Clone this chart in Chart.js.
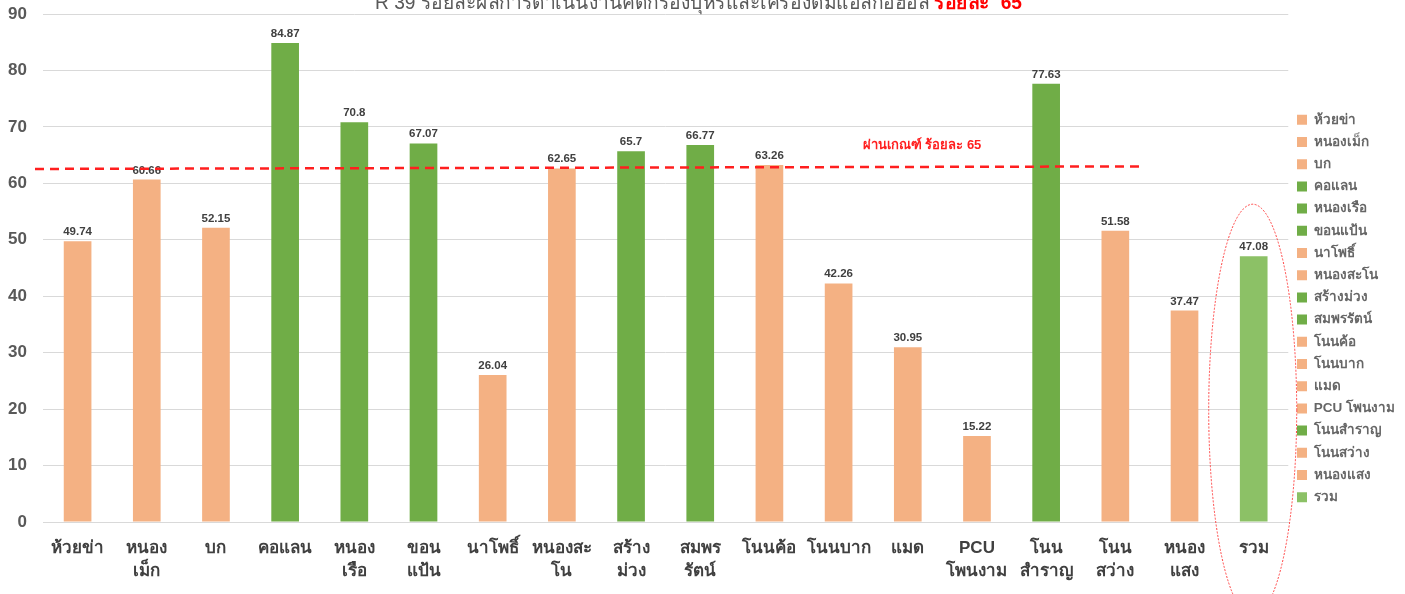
<!DOCTYPE html>
<html><head><meta charset="utf-8">
<script src="https://cdn.jsdelivr.net/npm/chart.js@4.4.1/dist/chart.umd.min.js"></script>
<style>html,body{margin:0;padding:0;background:#fff;overflow:hidden}#wrap{width:1405px;height:594px;position:relative}</style>
</head><body><div id="wrap"><canvas id="c" width="1405" height="594"></canvas></div>
<script>
const categories = ['ห้วยข่า','หนองเม็ก','บก','คอแลน','หนองเรือ','ขอนแป้น','นาโพธิ์','หนองสะโน','สร้างม่วง','สมพรรัตน์','โนนค้อ','โนนบาก','แมด','PCU โพนงาม','โนนสำราญ','โนนสว่าง','หนองแสง','รวม'];
const axisLabels = [['ห้วยข่า'],['หนอง','เม็ก'],['บก'],['คอแลน'],['หนอง','เรือ'],['ขอน','แป้น'],['นาโพธิ์'],['หนองสะ','โน'],['สร้าง','ม่วง'],['สมพร','รัตน์'],['โนนค้อ'],['โนนบาก'],['แมด'],['PCU','โพนงาม'],['โนน','สำราญ'],['โนน','สว่าง'],['หนอง','แสง'],['รวม']];
const values = [49.74, 60.66, 52.15, 84.87, 70.8, 67.07, 26.04, 62.65, 65.7, 66.77, 63.26, 42.26, 30.95, 15.22, 77.63, 51.58, 37.47, 47.08];
const passTarget = 65;
const targetLineValues = [62.55, 63.0];   // where the dashed line is drawn (start, end)
const targetLabel = 'ผ่านเกณฑ์ ร้อยละ 65';
const titleMain = 'R 39 ร้อยละผลการดำเนินงานคัดกรองบุหรี่และเครื่องดื่มแอลกอฮอล์ ';
const titleRed = 'ร้อยละ  65';
const yTickValues = [0,10,20,30,40,50,60,70,80,90];
const totalLabel = 'รวม';

const ORANGE = '#F4B183', GREEN = '#70AD47', LIGHTGREEN = '#8CC166';
const barColors = categories.map((c,i)=> c===totalLabel ? LIGHTGREEN : (values[i] >= passTarget ? GREEN : ORANGE));
const FONT = '"Liberation Sans", Arial, sans-serif';

const valueLabels = {
  id:'valueLabels',
  afterDatasetsDraw(chart){
    const ctx = chart.ctx, meta = chart.getDatasetMeta(0);
    ctx.save();
    ctx.font = 'bold 11.5px ' + FONT;
    ctx.fillStyle = '#404040';
    ctx.textAlign = 'center'; ctx.textBaseline = 'alphabetic';
    meta.data.forEach((bar,i)=>{ ctx.fillText(String(values[i]), bar.x, bar.y - 6); });
    ctx.restore();
  }
};
const targetLine = {
  id:'targetLine',
  afterDatasetsDraw(chart){
    const ctx = chart.ctx, y = chart.scales.y, a = chart.chartArea;
    const x0 = a.left - 8, x1 = 1140;
    ctx.save();
    ctx.strokeStyle = '#FF1F1F'; ctx.lineWidth = 2.5; ctx.setLineDash([9,6]);
    ctx.beginPath();
    ctx.moveTo(x0, y.getPixelForValue(targetLineValues[0]));
    ctx.lineTo(x1, y.getPixelForValue(targetLineValues[1]));
    ctx.stroke();
    ctx.setLineDash([]);
    ctx.font = 'bold 13px ' + FONT;
    ctx.fillStyle = '#FF1F1F'; ctx.textAlign='center'; ctx.textBaseline='middle';
    ctx.fillText(targetLabel, 922, 145);
    ctx.restore();
  }
};
const ellipse = {
  id:'ellipse',
  afterDraw(chart){
    const ctx = chart.ctx, meta = chart.getDatasetMeta(0), y = chart.scales.y;
    const bar = meta.data[categories.indexOf(totalLabel)];
    const cy = y.getPixelForValue(19.8), top = y.getPixelForValue(56.3);
    ctx.save();
    ctx.strokeStyle = 'rgba(255,40,40,0.85)'; ctx.lineWidth = 1; ctx.setLineDash([2,1.5]);
    ctx.beginPath();
    ctx.ellipse(bar.x - 1, cy, 44, cy - top, 0, 0, Math.PI*2);
    ctx.stroke();
    ctx.restore();
  }
};
const topTitle = {
  id:'topTitle',
  afterDraw(chart){
    const ctx = chart.ctx;
    ctx.save();
    ctx.textBaseline = 'alphabetic'; ctx.textAlign = 'left';
    ctx.font = '20px ' + FONT;
    const w1 = ctx.measureText(titleMain).width;
    ctx.font = 'bold 20px ' + FONT;
    const w2 = ctx.measureText(titleRed).width;
    const target = 647, sx = target/(w1+w2);
    ctx.translate(375, 9); ctx.scale(sx, 1);
    ctx.font = '20px ' + FONT; ctx.fillStyle = '#595959';
    ctx.fillText(titleMain, 0, 0);
    ctx.font = 'bold 20px ' + FONT; ctx.fillStyle = '#FF0000';
    ctx.fillText(titleRed, w1, 0);
    ctx.restore();
  }
};

new Chart(document.getElementById('c'), {
  type:'bar',
  data:{ labels: axisLabels, datasets:[{ data: values, backgroundColor: barColors, borderWidth:0, barPercentage:0.4, categoryPercentage:1 }] },
  options:{
    responsive:false, animation:false, devicePixelRatio:1,
    layout:{ padding:{ top:14, left:8, right:0, bottom:11 } },
    plugins:{
      tooltip:{enabled:false},
      title:{display:false},
      legend:{
        position:'right', align:'center',
        title:{ display:true, text:' ', font:{size:1}, padding:9.4 },
        labels:{
          boxWidth:10, boxHeight:10, padding:8.7, color:'#595959',
          font:{ size:13.5, weight:'bold', family:FONT },
          generateLabels(){ return categories.map((c,i)=>({ text:c, fillStyle:barColors[i], strokeStyle:barColors[i], lineWidth:0, hidden:false, index:i, datasetIndex:0 })); }
        },
        onClick:null
      }
    },
    scales:{
      x:{
        grid:{ display:false, drawTicks:false },
        border:{ display:true, color:'#D9D9D9', width:1 },
        ticks:{ color:'#404040', font:{ size:17, weight:'bold', family:FONT, lineHeight:1.35 }, padding:15, maxRotation:0, autoSkip:false },
        afterFit(s){ s.height = 61; s.paddingLeft = 0; s.paddingRight = 0; }
      },
      y:{
        min:0, max:90,
        afterBuildTicks(s){ s.ticks = yTickValues.map(v=>({value:v})); },
        grid:{ color:'#D9D9D9', drawTicks:false },
        border:{ display:false },
        ticks:{ color:'#595959', font:{ size:17, weight:'bold', family:FONT }, padding:16 },
        afterFit(s){ s.width = 35; s.paddingTop = 0; s.paddingBottom = 0; }
      }
    }
  },
  plugins:[valueLabels, targetLine, ellipse, topTitle]
});
</script></body></html>
